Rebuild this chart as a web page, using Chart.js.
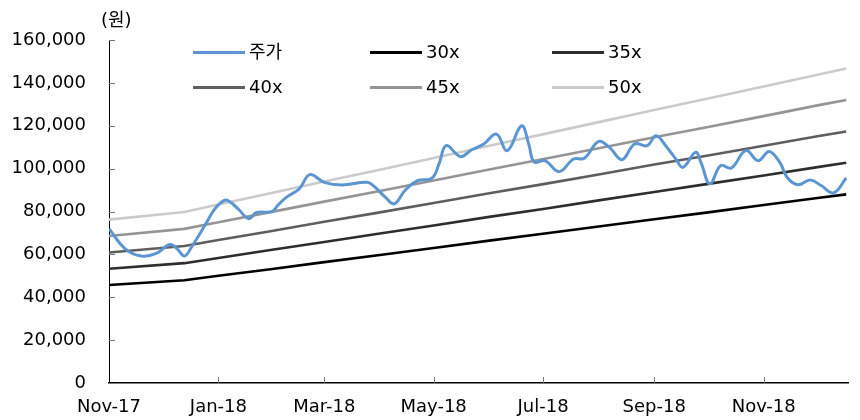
<!DOCTYPE html>
<html lang="ko">
<head>
<meta charset="UTF-8">
<title>주가 PER 밴드</title>
<script src="https://cdn.jsdelivr.net/npm/chart.js@4.4.0/dist/chart.umd.min.js"></script>
<style>
  body { margin: 0; padding: 0; background: #fff; font-family: 'DejaVu Sans', 'Noto Sans CJK KR', sans-serif; }
  .wrap { position: relative; width: 860px; height: 420px; }
  .unit { position: absolute; left: 101px; top: 5px; font-size: 18px; color: #000; }
  .legend { position: absolute; left: 0; top: 0; }
  .item { position: absolute; height: 20px; font-size: 18px; color: #000; line-height: 20px; white-space: nowrap; }
  .item span.line { position: absolute; left: 0; top: 9px; width: 52px; height: 3px; }
  .item span.txt { position: absolute; left: 56px; top: 0; }
</style>
</head>
<body>
<div class="wrap">
  <canvas id="bandChart" width="860" height="420"></canvas>
  <div class="unit">(원)</div>
  <div class="legend" id="legend"></div>
</div>

<script>
// x values are days counted from 1 Nov 2017
var tickDays = [0, 61, 120, 181, 242, 304, 365];
var tickLabels = ['Nov-17', 'Jan-18', 'Mar-18', 'May-18', 'Jul-18', 'Sep-18', 'Nov-18'];

var priceDays = [0, 9, 18, 26, 34, 38, 42, 46, 54, 59, 64, 67, 72, 78, 82, 91, 94, 99, 106, 112,
  120, 130, 144, 148, 154, 159, 165, 172, 180, 184, 188, 196, 202, 209, 216, 222, 230, 234, 237, 243,
  251, 259, 265, 273, 279, 286, 293, 300, 305, 311, 316, 320, 327, 330, 335, 341, 347, 355, 362, 368,
  374, 378, 384, 391, 397, 404, 411];
var price = [72000, 62600, 59200, 60300, 64600, 62600, 59200, 63400, 74300, 81200, 85100, 84800, 81200, 76600, 79400, 80000, 82800, 86700, 90500, 97200,
  93600, 92400, 93600, 91600, 86700, 83600, 89800, 94400, 95500, 102200, 110700, 105600, 108700, 111500, 116100, 108400, 120000, 111500, 103100, 103700,
  98600, 104500, 104800, 112700, 109900, 104200, 111500, 110700, 115300, 110000, 104500, 100600, 107600, 102900, 92900, 101400, 100300, 108400, 103700, 108000,
  102900, 96000, 92500, 94700, 92100, 88700, 95600];

var bandDays = [0, 42, 61, 90, 120, 151, 181, 212, 243, 273, 304, 334, 365, 395, 411];
var band30 = [45700, 47900, 50000, 53100, 56400, 59700, 63000, 66400, 69700, 73000, 76400, 79600, 83000, 86300, 88000];
var band35 = [53300, 55900, 58300, 62000, 65800, 69700, 73500, 77500, 81300, 85200, 89100, 92900, 96800, 100700, 102700];
var band40 = [60900, 63900, 66700, 70800, 75200, 79600, 84000, 88500, 92900, 97300, 101900, 106100, 110700, 115100, 117300];
var band45 = [68600, 71900, 75000, 79700, 84600, 89600, 94500, 99600, 104600, 109500, 114600, 119400, 124500, 129500, 132000];
var band50 = [76200, 79800, 83300, 88500, 94000, 99500, 105000, 110700, 116200, 121700, 127300, 132700, 138300, 143800, 146700];

var seriesNames = ['주가', '30x', '35x', '40x', '45x', '50x'];
var seriesColors = ['#5b96d2', '#000000', '#2e2e2e', '#5e5e5e', '#959595', '#cbcbcb'];

function pts(xs, ys) {
  return xs.map(function (x, i) { return { x: x, y: ys[i] }; });
}

var lineSets = [pts(priceDays, price), pts(bandDays, band30), pts(bandDays, band35),
  pts(bandDays, band40), pts(bandDays, band45), pts(bandDays, band50)];

var datasets = lineSets.map(function (d, i) {
  return {
    label: seriesNames[i],
    data: d,
    borderColor: seriesColors[i],
    borderWidth: i === 0 ? 3 : 2.6,
    pointRadius: 0,
    fill: false,
    tension: i === 0 ? 0.4 : 0,
    order: i === 0 ? 0 : 6 - i
  };
});

// small inward tick marks like the original
var innerTicks = {
  id: 'innerTicks',
  afterDraw: function (chart) {
    var ctx = chart.ctx;
    var xs = chart.scales.x, ys = chart.scales.y;
    ctx.save();
    ctx.strokeStyle = '#777';
    ctx.lineWidth = 1;
    ctx.beginPath();
    ys.ticks.forEach(function (t) {
      var y = Math.round(ys.getPixelForValue(t.value)) + 0.5;
      ctx.moveTo(xs.left, y);
      ctx.lineTo(xs.left + 6, y);
    });
    xs.ticks.forEach(function (t) {
      if (t.value === 0) return;
      var x = Math.round(xs.getPixelForValue(t.value)) + 0.5;
      ctx.moveTo(x, ys.bottom);
      ctx.lineTo(x, ys.bottom - 6);
    });
    ctx.stroke();
    ctx.restore();
  }
};

var ctx = document.getElementById('bandChart').getContext('2d');
var bandChart = new Chart(ctx, {
  type: 'line',
  data: { datasets: datasets },
  options: {
    responsive: false,
    animation: false,
    layout: { padding: { top: 40, right: 12, left: 0, bottom: 0 } },
    plugins: { legend: { display: false }, tooltip: { enabled: false } },
    scales: {
      x: {
        type: 'linear',
        min: 0,
        max: 412,
        afterBuildTicks: function (scale) {
          scale.ticks = tickDays.map(function (v) { return { value: v }; });
        },
        afterFit: function (scale) { scale.height = 37; },
        grid: { drawOnChartArea: false, drawTicks: false },
        border: { display: true, color: '#000', width: 1.5 },
        ticks: {
          padding: 14,
          maxRotation: 0,
          autoSkip: false,
          color: '#000',
          font: { family: 'DejaVu Sans', size: 18 },
          callback: function (v) { return tickLabels[tickDays.indexOf(v)]; }
        }
      },
      y: {
        min: 0,
        max: 160000,
        afterFit: function (scale) { scale.width = 109; },
        grid: { drawOnChartArea: false, drawTicks: false },
        border: { display: true, color: '#000', width: 1 },
        ticks: {
          stepSize: 20000,
          padding: 23,
          color: '#000',
          font: { family: 'DejaVu Sans', size: 18 },
          callback: function (v) { return v.toLocaleString('en-US'); }
        }
      }
    }
  },
  plugins: [innerTicks]
});

// legend laid out in two rows of three, inside the plot like the original
var legendPos = [[193, 42], [370, 42], [552, 42], [193, 77], [370, 77], [552, 77]];
var legendEl = document.getElementById('legend');
seriesNames.forEach(function (name, i) {
  var item = document.createElement('div');
  item.className = 'item';
  item.style.left = legendPos[i][0] + 'px';
  item.style.top = legendPos[i][1] + 'px';
  item.innerHTML = '<span class="line" style="background:' + seriesColors[i] + '"></span><span class="txt">' + name + '</span>';
  legendEl.appendChild(item);
});
</script>
</body>
</html>
